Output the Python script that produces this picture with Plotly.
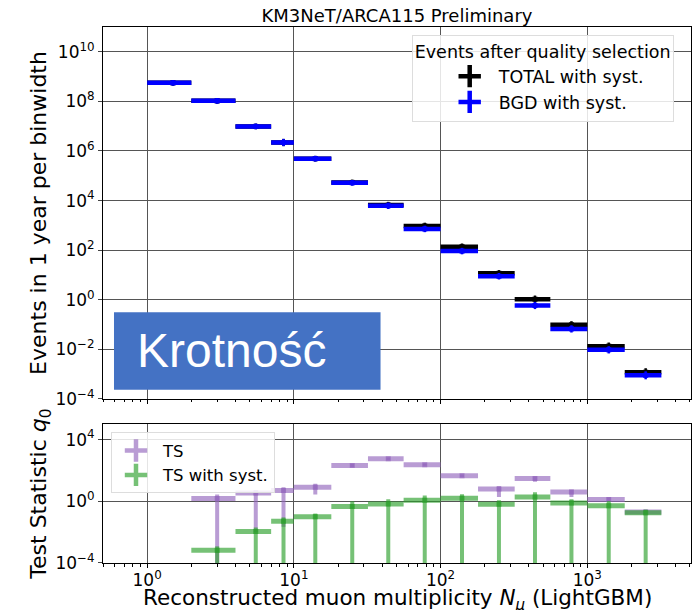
import plotly.graph_objects as go

# ---------------- data ----------------
bin_edges = [1, 2, 4, 7, 10, 18, 32, 56, 100, 180, 320, 560, 1000, 1800, 3200]

total = [5.6e8, 1.05e8, 9.8e6, 2.2e6, 4.9e5, 5.4e4, 6.6e3, 9.5e2, 138, 11.7, 1.06, 0.098, 0.0135, 0.0012]
total_relerr = [0.3, 0.3, 0.3, 0.4, 0.3, 0.3, 0.35, 0.35, 0.35, 0.35, 0.4, 0.4, 0.4, 0.45]
bgd = [5.6e8, 1.05e8, 9.8e6, 2.2e6, 4.9e5, 5.2e4, 6.2e3, 7.2e2, 92, 8.9, 0.59, 0.067, 0.0096, 0.0009]
bgd_relerr = [0.3, 0.3, 0.3, 0.4, 0.3, 0.3, 0.35, 0.35, 0.35, 0.35, 0.4, 0.4, 0.4, 0.45]

ts = [None, 1.5, 3.5, 5.1, 8, 210, 570, 235, 46, 6.2, 30, 4, 1.3, 0.2]
ts_lo = [None, 1e-7, 0.01, 0.022, 2.8, 170, 480, 200, 38, 1.9, 18.6, 1.9, 0.9, 0.15]
ts_hi = [None, 2.8, 5.5, 8, 14, 260, 680, 280, 55, 9.3, 41, 5.6, 1.8, 0.28]

ts_syst = [None, 6.6e-4, 0.011, 0.051, 0.10, 0.46, 0.68, 1.16, 1.55, 0.64, 1.9, 0.78, 0.52, 0.18]
ts_syst_lo = [None, 1e-7, 1e-7, 1e-7, 1e-7, 1e-7, 1e-7, 1e-7, 1e-7, 1e-7, 1e-7, 1e-7, 1e-7, 1e-7]
ts_syst_hi = [None, 1.2e-3, 0.02, 0.09, 0.16, 1.0, 1.35, 2.4, 2.9, 1.16, 3.8, 1.35, 1.05, 0.29]

x_ticks = [1, 10, 100, 1000]
x_ticktext = ["10<sup>0</sup>", "10<sup>1</sup>", "10<sup>2</sup>", "10<sup>3</sup>"]
y1_ticks = [1e-4, 1e-2, 1, 1e2, 1e4, 1e6, 1e8, 1e10]
y1_ticktext = ["10<sup>−4</sup>", "10<sup>−2</sup>", "10<sup>0</sup>", "10<sup>2</sup>",
               "10<sup>4</sup>", "10<sup>6</sup>", "10<sup>8</sup>", "10<sup>10</sup>"]
y2_ticks = [1e-4, 1, 1e4]
y2_ticktext = ["10<sup>−4</sup>", "10<sup>0</sup>", "10<sup>4</sup>"]

# ---------------- derived ----------------
lo_e = bin_edges[:-1]
hi_e = bin_edges[1:]
centers = [(a + b) / 2 for a, b in zip(lo_e, hi_e)]
xplus = [b - c for b, c in zip(hi_e, centers)]
xminus = [c - a for a, c in zip(lo_e, centers)]


def sel(vals):
    return [i for i, v in enumerate(vals) if v is not None]


FONT = "DejaVu Sans"
fig = go.Figure()


def add_hist(y, yplus, yminus, color, xa, ya, hthick, vthick, msize):
    idx = sel(y)
    fig.add_trace(go.Scatter(
        x=[centers[i] for i in idx], y=[y[i] for i in idx],
        mode="markers", showlegend=False, xaxis=xa, yaxis=ya,
        marker=dict(color=color, size=msize, symbol="square"),
        error_x=dict(type="data", symmetric=False,
                     array=[xplus[i] for i in idx], arrayminus=[xminus[i] for i in idx],
                     color=color, thickness=hthick, width=0),
        error_y=dict(type="data", symmetric=False,
                     array=[yplus[i] for i in idx], arrayminus=[yminus[i] for i in idx],
                     color=color, thickness=vthick, width=0),
    ))


# upper panel
add_hist(total, [v * r for v, r in zip(total, total_relerr)],
         [v * r / (1 + r) for v, r in zip(total, total_relerr)],
         "black", "x", "y", 4.5, 2.5, 5)
add_hist(bgd, [v * r for v, r in zip(bgd, bgd_relerr)],
         [v * r / (1 + r) for v, r in zip(bgd, bgd_relerr)],
         "#0000ff", "x", "y", 4.5, 2.5, 5)

# lower panel
PURPLE = "rgba(148,103,189,0.65)"
GREEN = "rgba(44,160,44,0.65)"
add_hist(ts, [h - v if v is not None else None for v, h in zip(ts, ts_hi)],
         [v - l if v is not None else None for v, l in zip(ts, ts_lo)],
         PURPLE, "x2", "y2", 5, 4, 5)
add_hist(ts_syst, [h - v if v is not None else None for v, h in zip(ts_syst, ts_syst_hi)],
         [v - l if v is not None else None for v, l in zip(ts_syst, ts_syst_lo)],
         GREEN, "x2", "y2", 5, 4, 5)

# legend entries
for name, col, leg in [("TOTAL with syst.", "black", "legend"),
                       ("BGD with syst.", "#0000ff", "legend"),
                       ("TS", PURPLE, "legend2"),
                       ("TS with syst.", GREEN, "legend2")]:
    fig.add_trace(go.Scatter(
        x=[None], y=[None], mode="markers", name=name, legend=leg,
        xaxis="x" if leg == "legend" else "x2", yaxis="y" if leg == "legend" else "y2",
        marker=dict(symbol="cross-thin", size=16, color=col, line=dict(color=col, width=4.5)),
    ))

GRID = "#555555"
TICKFONT = dict(family=FONT, size=17, color="black")
common_x = dict(type="log", range=[-0.301, 3.707], tickmode="array", tickvals=x_ticks,
                ticktext=x_ticktext, showgrid=True, gridcolor=GRID, gridwidth=1,
                showline=True, linecolor="black", linewidth=1, mirror=True,
                ticks="outside", ticklen=4, tickcolor="black", zeroline=False,
                minor=dict(tickvals=[m * d for d in [0.1, 1, 10, 100, 1000] for m in range(2, 10)],
                           ticks="outside", ticklen=2.5, tickcolor="black", showgrid=False),
                tickfont=TICKFONT)

fig.update_layout(
    width=692, height=610,
    margin=dict(l=103, r=1, t=27, b=47),
    paper_bgcolor="white", plot_bgcolor="white",
    font=dict(family=FONT, color="black"),
    title=dict(text="KM3NeT/ARCA115 Preliminary", x=0.5, xref="paper", xanchor="center",
               y=1 - 16 / 610, yref="container", yanchor="middle",
               font=dict(family=FONT, size=18, color="black")),
    xaxis=dict(common_x, anchor="y", showticklabels=False, matches="x2"),
    xaxis2=dict(common_x, anchor="y2", ticklabelstandoff=-2),
    yaxis=dict(domain=[0.306, 1], type="log", range=[-4, 11], tickmode="array",
               tickvals=y1_ticks, ticktext=y1_ticktext, showgrid=True, gridcolor=GRID,
               showline=True, linecolor="black", mirror=True, ticks="outside", ticklen=4,
               zeroline=False, tickfont=TICKFONT,
               title=dict(text="Events in 1 year per binwidth", font=dict(family=FONT, size=22),
                          standoff=2)),
    yaxis2=dict(domain=[0, 0.259], type="log", range=[-4, 5], tickmode="array",
                tickvals=y2_ticks, ticktext=y2_ticktext, showgrid=True, gridcolor=GRID,
                showline=True, linecolor="black", mirror=True, ticks="outside", ticklen=4,
                zeroline=False, tickfont=TICKFONT,
                title=dict(text="Test Statistic <i>q</i><sub>0</sub>", font=dict(family=FONT, size=22),
                           standoff=2)),
    legend=dict(x=0.525, y=0.986, xanchor="left", yanchor="top",
                bgcolor="rgba(255,255,255,0.85)", bordercolor="#dddddd", borderwidth=1,
                font=dict(family=FONT, size=17.5, color="black"), indentation=28, itemwidth=48,
                title=dict(text="Events after quality selection", font=dict(family=FONT, size=17.5))),
    legend2=dict(x=0.0136, y=0.244, xanchor="left", yanchor="top",
                 bgcolor="rgba(255,255,255,0.85)", bordercolor="#dddddd", borderwidth=1,
                 font=dict(family=FONT, size=16.5, color="black"), indentation=-3, itemwidth=44),
    shapes=[dict(type="rect", xref="paper", yref="paper", x0=0.0187, x1=0.472, y0=0.323, y1=0.468,
                 fillcolor="#4472C4", line=dict(width=0), layer="above")],
    annotations=[
        dict(text="Krotność", xref="paper", yref="paper", x=0.054, y=0.3957,
             xanchor="left", yanchor="middle", showarrow=False,
             font=dict(family="Liberation Sans", size=48, color="white")),
        dict(text="Reconstructed muon multiplicity <i>N</i><sub><i>μ</i></sub> (LightGBM)",
             xref="paper", yref="paper", x=0.5, y=-36 / 536, xanchor="center", yanchor="middle",
             showarrow=False, font=dict(family=FONT, size=21.5, color="black")),
    ],
)

fig.write_html("out.html")
